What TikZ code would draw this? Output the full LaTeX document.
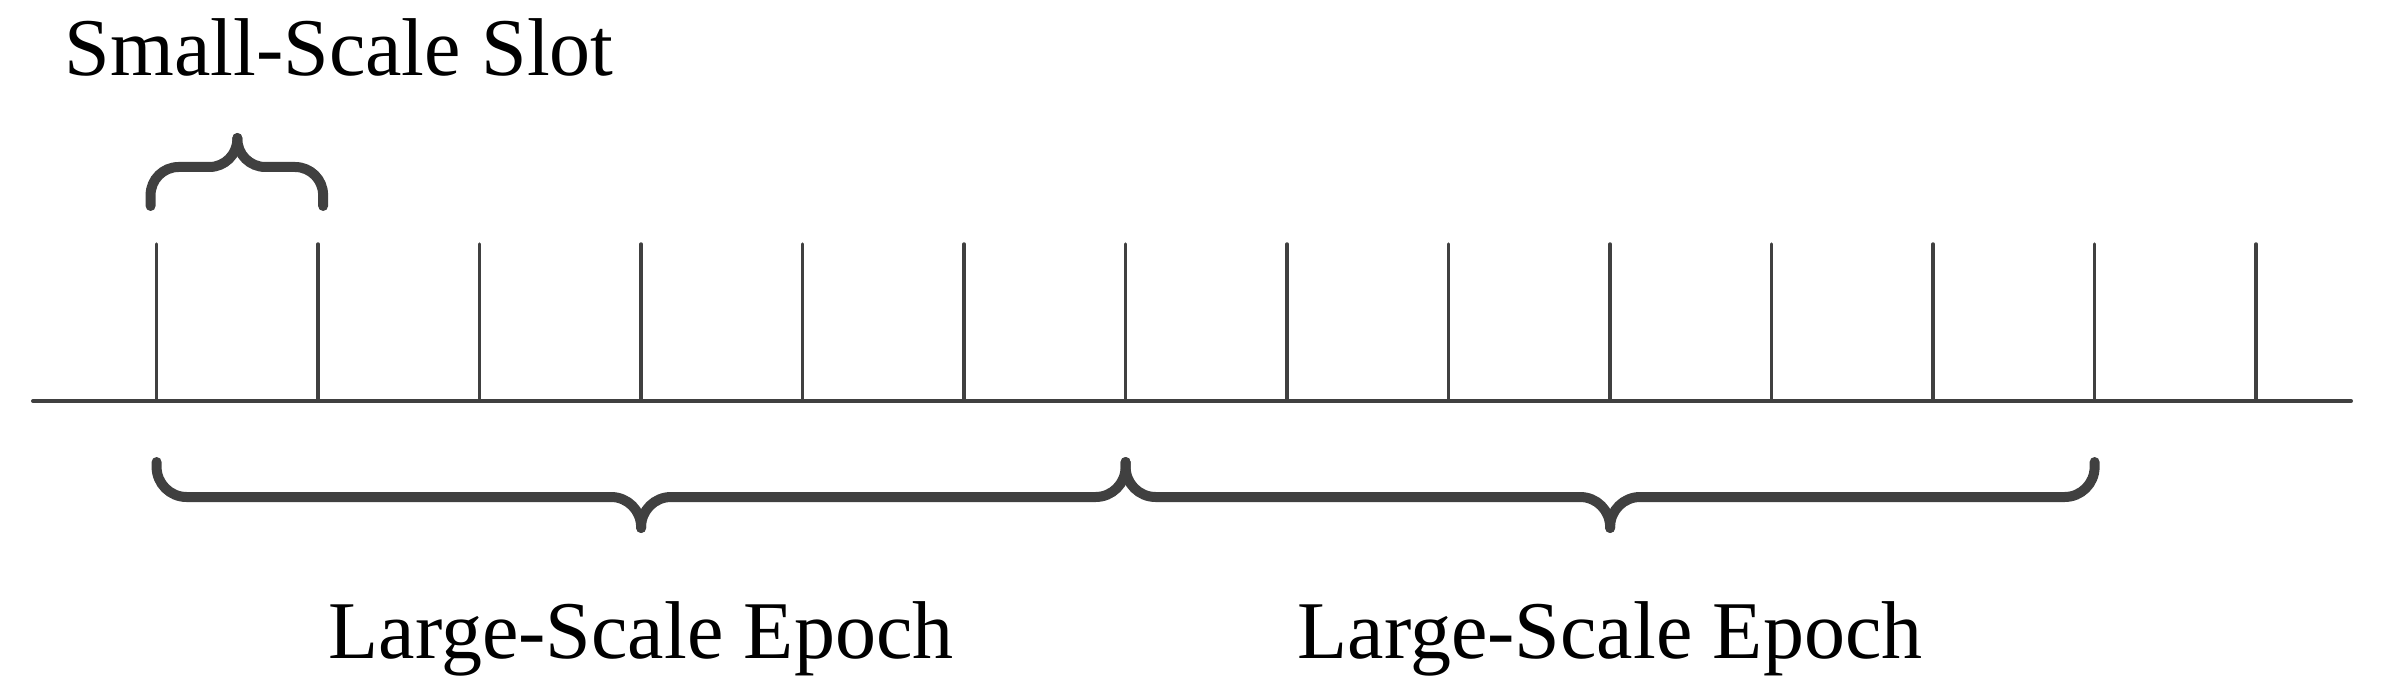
\documentclass[tikz,border=0pt]{standalone}
\usepackage{fontspec}
\setmainfont{Liberation Serif}
\usetikzlibrary{positioning,calc}
\definecolor{linegray}{HTML}{404040}

\begin{document}
\begin{tikzpicture}[x=0.25pt,y=-0.25pt,
            axis/.style={draw=linegray, line width=1pt, line cap=round},
            tick/.style={draw=linegray, line width=0.85pt, line cap=round},
            bracket/.style={draw=linegray, line width=2.5pt, line cap=round, rounded corners=7.5pt},
            label/.style={font=\fontsize{20.5}{24}\selectfont, inner sep=0pt, anchor=base}]

            \useasboundingbox (0,0) rectangle (2384,684);

            % time line
            \coordinate (a0) at (33,401);
            \coordinate (a1) at (2351,401);
            \draw[axis] (a0) -- (a1);
            \foreach \i in {1,...,14} {
                \coordinate (t\i) at ({156.6+(\i-1)*161.5},401);
                \draw[tick] (t\i) -- ++(0,-157);
            }

            % slot brace
            \coordinate (sl) at ($(t1)+(-6,-195)$);
            \coordinate (sr) at ($(t2)+(5,-195)$);
            \coordinate (sm) at ($(t1)!0.5!(t2)+(0,-263)$);
            \draw[bracket,rounded corners=7pt] (sl) -- ++(0,-39) -| (sm);
            \draw[bracket,rounded corners=7pt] (sr) -- ++(0,-39) -| (sm);
            \node[label,anchor=base west] (slot) at (64,76) {Small-Scale Slot};

            % epoch braces
            \foreach \l/\m/\r in {1/4/7,7/10/13} {
                \draw[bracket] ($(t\l)+(0,61)$) -- ($(t\l)+(0,96)$) -- ($(t\m)+(0,96)$) -- ($(t\m)+(0,127)$);
                \draw[bracket] ($(t\r)+(0,61)$) -- ($(t\r)+(0,96)$) -- ($(t\m)+(0,96)$) -- ($(t\m)+(0,127)$);
                \node[label] (epoch\m) at ($(t\m)+(0,257)$) {Large-Scale Epoch};
            }

\end{tikzpicture}
\end{document}
